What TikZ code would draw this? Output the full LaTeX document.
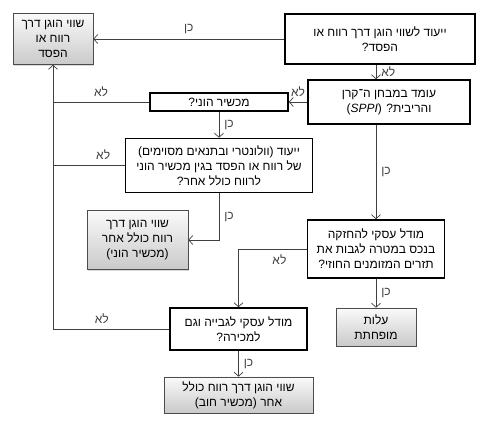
\documentclass[tikz,border=0pt]{standalone}
\usepackage{fontspec}
\newfontfamily\hebfont[Script=Hebrew]{Liberation Sans}
\newfontfamily\latfont{Liberation Sans}
\TeXXeTstate=1
\newcommand{\heb}[1]{\beginR #1\endR}
\usetikzlibrary{shapes,arrows,arrows.meta,shadows}
\tikzstyle{decision} = [rectangle, draw, fill=white, text centered, align=center, line width=1.6pt, inner sep=2pt]
\tikzstyle{outcome}  = [rectangle, draw=black!70, top color=gray!4, bottom color=gray!42, text centered, align=center, line width=0.6pt, drop shadow={opacity=0.3, shadow xshift=1.2pt, shadow yshift=-1.2pt}]
\tikzstyle{flow} = [draw, line width=0.7pt, color=black!75, every node/.append style={inner sep=5pt}]

\begin{document}
\begin{tikzpicture}[node distance = 3cm, auto, >={Straight Barb[length=4pt,width=9pt]}, font=\hebfont\fontsize{12}{15}\selectfont]
            \useasboundingbox (0,0) rectangle (480pt,-430pt);
            \node[decision, minimum width=190pt, minimum height=50pt] (designate) at (380pt,-39pt) {\heb{ייעוד לשווי הוגן דרך רווח או}\\\heb{הפסד?}};
            \node[outcome, left of=designate, node distance=327pt, minimum width=80pt, minimum height=51pt] (fvpl) {\heb{שווי הוגן דרך}\\\heb{רווח או}\\\heb{הפסד}};
            \node[decision, below of=designate, node distance=63pt, xshift=9pt, minimum width=162pt, minimum height=44pt] (sppi) {\heb{עומד במבחן ה־קרן}\\\heb{והריבית? \beginL{\latfont(\textit{SPPI})}\endL}};
            \node[decision, left of=sppi, node distance=170pt, minimum width=138pt, minimum height=18pt] (equity) {\heb{מכשיר הוני?}};
            \node[decision, below of=equity, node distance=63.5pt, minimum width=187pt, minimum height=54pt] (ocichoice) {\heb{ייעוד (וולונטרי ובתנאים מסוימים)}\\\heb{של רווח או הפסד בגין מכשיר הוני}\\\heb{לרווח כולל אחר?}};
            \node[outcome, below of=ocichoice, node distance=74.5pt, xshift=-81.5pt, minimum width=101pt, minimum height=59pt] (fvociequity) {\heb{שווי הוגן דרך}\\\heb{רווח כולל אחר}\\\heb{(מכשיר הוני)}};
            \node[decision, below of=sppi, node distance=147pt, xshift=-13pt, minimum width=137pt, minimum height=58pt] (hold) {\heb{מודל עסקי להחזקה}\\\heb{בנכס במטרה לגבות את}\\\heb{תזרים המזומנים החוזי?}};
            \node[outcome, below of=hold, node distance=78pt, minimum width=80pt, minimum height=38pt] (amortised) {\heb{עלות}\\\heb{מופחתת}};
            \node[decision, left of=amortised, node distance=137.5pt, yshift=-2pt, minimum width=137pt, minimum height=42pt] (both) {\heb{מודל עסקי לגבייה וגם}\\\heb{למכירה?}};
            \node[outcome, below of=both, node distance=66pt, minimum width=149pt, minimum height=36pt] (fvocidebt) {\heb{שווי הוגן דרך רווח כולל}\\\heb{אחר (מכשיר חוב)}};

            \path [flow, ->] (designate.west) -- node[swap] {\heb{כן}} (fvpl.east);
            \path [flow, ->] (designate.south -| hold) -- node {\heb{לא}} (sppi.north -| hold);
            \path [flow, ->] (sppi.west) -- node[swap] {\heb{לא}} (equity.east);
            \path [flow] (equity.west) -- node[swap] {\heb{לא}} (equity.west -| fvpl);
            \path [flow] (ocichoice.west) -- node[swap, pos=0.3] {\heb{לא}} (ocichoice.west -| fvpl);
            \path [flow, ->] (both.west) -| node[swap, pos=0.29] {\heb{לא}} (fvpl.south);
            \path [flow, ->] (equity.south) -- node {\heb{כן}} (ocichoice.north);
            \path [flow, ->] (ocichoice.south) |- node[pos=0.25] {\heb{כן}} (fvociequity.east);
            \path [flow, ->] (sppi.south -| hold) -- node {\heb{כן}} (hold.north);
            \path [flow, ->] (hold.west) -| node[pos=0.2] {\heb{לא}} (both.north);
            \path [flow, ->] (hold.south) -- node {\heb{כן}} (amortised.north);
            \path [flow, ->] (both.south) -- node {\heb{כן}} (fvocidebt.north);
        \end{tikzpicture}
\end{document}
